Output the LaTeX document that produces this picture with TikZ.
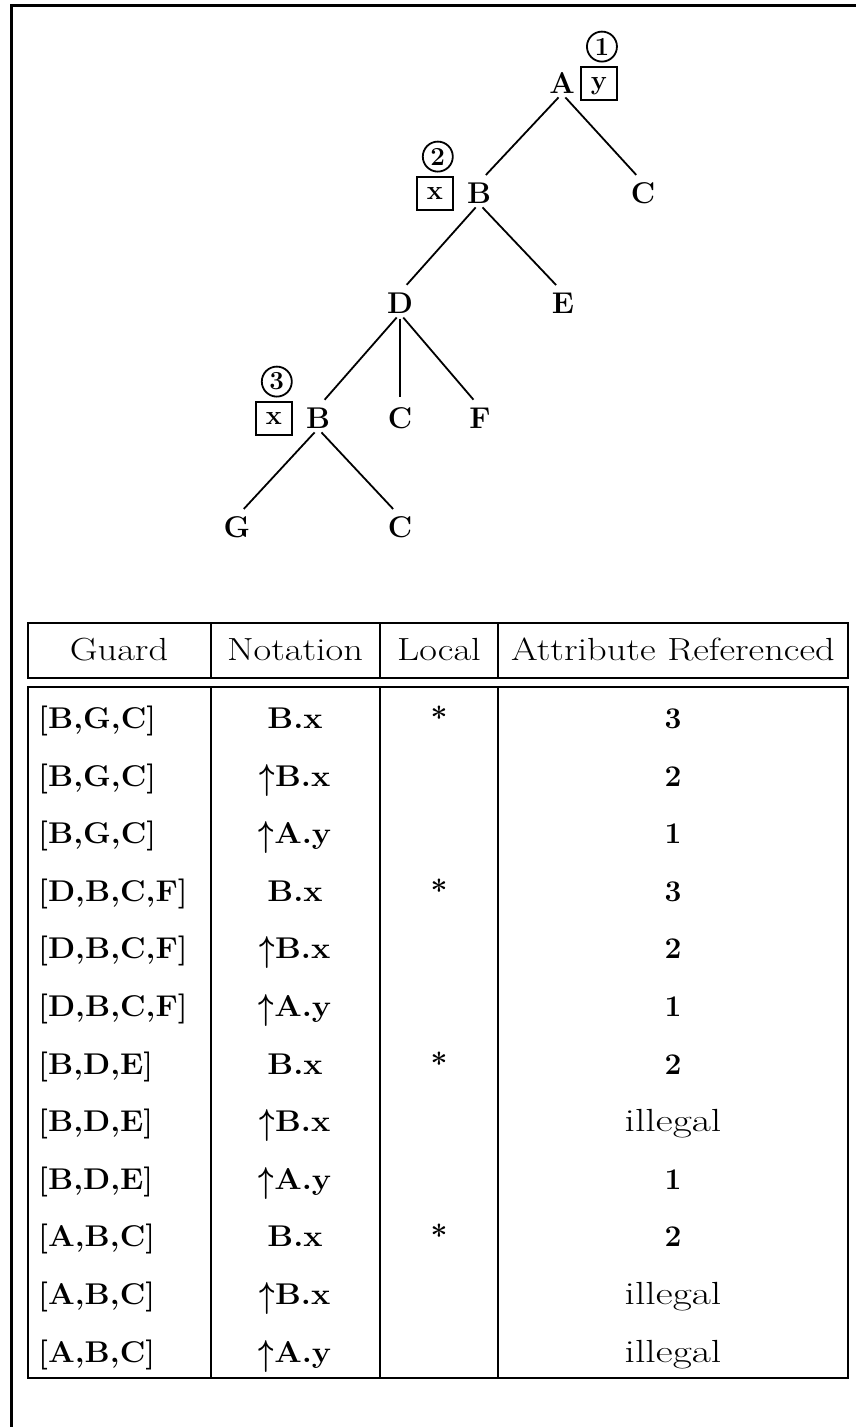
\documentclass[tikz,border=0pt]{standalone}
\usepackage{amsmath}
\usepackage{graphicx}
\usepackage{tikz}
\usetikzlibrary{positioning}

\newcommand{\wtext}[2][1.2]{\scalebox{#1}[1]{#2}}
\newcommand{\upar}{\raisebox{-3pt}{\scalebox{1}[1.45]{$\boldsymbol{\uparrow}$}}}

\tikzstyle{sym} = [inner sep=0pt, text height=21pt, text depth=0pt, font=\fontsize{30}{36}\selectfont\bfseries]
\tikzstyle{attrbox} = [draw, line width=2pt, minimum width=36pt, minimum height=33pt, inner sep=0pt, text height=13pt, text depth=0pt, font=\fontsize{27}{32}\selectfont\bfseries]
\tikzstyle{circnum} = [circle, draw, line width=1.8pt, minimum size=30pt, inner sep=0pt, xshift=3pt, font=\fontsize{26}{30}\selectfont\bfseries]
\tikzstyle{branch} = [line width=1.8pt, shorten <=5pt, shorten >=10pt]
\tikzstyle{rule} = [line width=2.4pt]
\tikzstyle{head} = [inner sep=0pt, text height=21pt, text depth=0pt, font=\fontsize{32}{38}\selectfont]
\tikzstyle{cell} = [inner sep=0pt, text height=21pt, text depth=0pt, font=\fontsize{30}{36}\selectfont\bfseries]

\begin{document}
\begin{tikzpicture}[x=1pt, y=-1pt]
\useasboundingbox (0,0) rectangle (856,1427);

% Page rule
\draw[line width=3pt] (856,5) -- (11,5) -- (11,1427);

% Tree nodes
\node (A) [sym] at (562,83) {A};
\node (B) [sym] at (479,193) {B};
\node (C) [sym] at (643,193) {C};
\node (D) [sym] at (400,303) {D};
\node (E) [sym] at (563,303) {E};
\node (Bd) [sym] at (318,418) {B};
\node (Cd) [sym] at (400,418) {C};
\node (F) [sym] at (480,418) {F};
\node (G) [sym] at (237,527) {G};
\node (Cb) [sym] at (400,527) {C};

% Attribute boxes and their numbers
\node (yA) [attrbox, right=5pt of A] {y};
\node (xB) [attrbox, left=13pt of B] {x};
\node (xBd) [attrbox, left=13pt of Bd] {x};
\node (one) [circnum, above=3pt of yA] {1};
\node (two) [circnum, above=3pt of xB] {2};
\node (three) [circnum, above=3pt of xBd] {3};

% Branches
\draw[branch] (A.south) -- (B.north);
\draw[branch] (A.south) -- (C.north);
\draw[branch] (B.south) -- (D.north);
\draw[branch] (B.south) -- (E.north);
\draw[branch] (D.south) -- (Bd.north);
\draw[branch] (D.south) -- (Cd.north);
\draw[branch] (D.south) -- (F.north);
\draw[branch] (Bd.south) -- (G.north);
\draw[branch] (Bd.south) -- (Cb.north);

% Table frame
\draw[rule] (28,623) rectangle (848,678);
\draw[rule] (28,687) rectangle (848,1378);
\foreach \x in {211,380,498} {
  \draw[rule] (\x,623) -- (\x,678);
  \draw[rule] (\x,687) -- (\x,1378);
}

% Header
\node (hguard) [head] at (119,650) {\wtext{Guard}};
\node (hnote) [head] at (295,650) {\wtext{Notation}};
\node (hlocal) [head] at (439,650) {\wtext{Local}};
\node (hattr) [head] at (673,650) {\wtext{Attribute Referenced}};

% Rows
\foreach \g/\nt/\lc/\at [count=\i] in {
  {[B,G,C]}/B.x/*/3,
  {[B,G,C]}/{\upar B.x}/{}/2,
  {[B,G,C]}/{\upar A.y}/{}/1,
  {[D,B,C,F]}/B.x/*/3,
  {[D,B,C,F]}/{\upar B.x}/{}/2,
  {[D,B,C,F]}/{\upar A.y}/{}/1,
  {[B,D,E]}/B.x/*/2,
  {[B,D,E]}/{\upar B.x}/{}/{\mdseries\fontsize{32}{38}\selectfont\wtext[1.3]{illegal}},
  {[B,D,E]}/{\upar A.y}/{}/1,
  {[A,B,C]}/B.x/*/2,
  {[A,B,C]}/{\upar B.x}/{}/{\mdseries\fontsize{32}{38}\selectfont\wtext[1.3]{illegal}},
  {[A,B,C]}/{\upar A.y}/{}/{\mdseries\fontsize{32}{38}\selectfont\wtext[1.3]{illegal}}
} {
  \node (grd\i) [cell, anchor=west] at (38,660.4+57.6*\i) {\wtext[1.05]{\g}};
  \node (nt\i) [cell] at (295,660.4+57.6*\i) {\wtext[1.08]{\nt}};
  \node (lc\i) [cell] at (439,660.4+57.6*\i) {\lc};
  \node (at\i) [cell] at (673,660.4+57.6*\i) {\at};
}
\end{tikzpicture}
\end{document}
